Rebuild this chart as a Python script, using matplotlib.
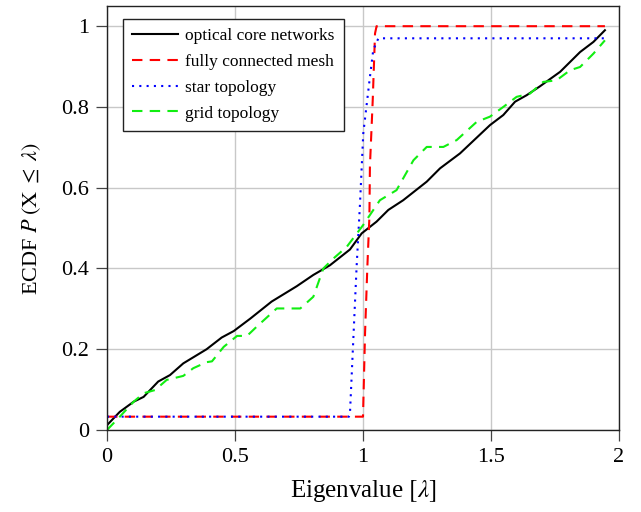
import matplotlib
matplotlib.use("Agg")
import matplotlib.pyplot as plt

plt.rcParams['font.family'] = ['Liberation Serif', 'DejaVu Serif']
plt.rcParams['mathtext.fontset'] = 'stix'

# optical core networks
core_x = [0.0, 0.05, 0.104, 0.143, 0.2, 0.246, 0.298, 0.389, 0.448, 0.495, 0.56, 0.643,
          0.741, 0.806, 0.871, 0.949, 0.995, 1.053, 1.099, 1.157, 1.249, 1.301, 1.379,
          1.496, 1.548, 1.594, 1.639, 1.691, 1.77, 1.848, 1.9, 1.945]
core_y = [0.012, 0.045, 0.07, 0.082, 0.12, 0.136, 0.165, 0.2, 0.229, 0.245, 0.276, 0.318,
          0.356, 0.384, 0.408, 0.447, 0.487, 0.516, 0.545, 0.569, 0.615, 0.648, 0.685,
          0.755, 0.78, 0.813, 0.829, 0.851, 0.887, 0.936, 0.961, 0.99]

# fully connected mesh
mesh_x = [0.0, 1.0, 1.008, 1.017, 1.025, 1.027, 1.038, 1.047, 1.053, 1.945]
mesh_y = [0.033, 0.033, 0.24, 0.404, 0.528, 0.652, 0.817, 0.982, 1.0, 1.0]

# star topology
star_x = [0.0, 0.945, 0.949, 0.975, 0.988, 1.001, 1.027, 1.04, 1.06, 1.945]
star_y = [0.033, 0.033, 0.04, 0.404, 0.557, 0.734, 0.874, 0.941, 0.97, 0.97]

# grid topology
grid_x = [0.0, 0.05, 0.104, 0.143, 0.188, 0.233, 0.298, 0.337, 0.389, 0.41, 0.456, 0.508,
          0.547, 0.585, 0.663, 0.755, 0.806, 0.845, 0.885, 0.937, 1.0, 1.066, 1.131,
          1.197, 1.249, 1.314, 1.366, 1.444, 1.496, 1.548, 1.6, 1.652, 1.704, 1.756,
          1.809, 1.848, 1.9, 1.945]
grid_y = [0.0, 0.033, 0.07, 0.091, 0.099, 0.124, 0.134, 0.153, 0.168, 0.17, 0.206, 0.233,
          0.233, 0.256, 0.301, 0.301, 0.33, 0.4, 0.425, 0.454, 0.507, 0.569, 0.594,
          0.668, 0.701, 0.701, 0.718, 0.763, 0.776, 0.8, 0.825, 0.833, 0.862, 0.866,
          0.891, 0.899, 0.932, 0.965]

xticks = [0, 0.5, 1, 1.5, 2]
xtick_labels = ['0', '0.5', '1', '1.5', '2']
yticks = [0, 0.2, 0.4, 0.6, 0.8, 1]
ytick_labels = ['0', '0.2', '0.4', '0.6', '0.8', '1']

fig = plt.figure(figsize=(6.41, 5.12), dpi=100)
ax = fig.add_axes([107/641, 1 - 430/512, (619-107)/641, (430-6)/512])

ax.plot(core_x, core_y, color='black', lw=1.5, label='optical core networks')
ax.plot(mesh_x, mesh_y, color='red', lw=1.5, ls=(0, (5, 3.5)), label='fully connected mesh')
ax.plot(star_x, star_y, color='blue', lw=1.5, ls=(0, (1, 2.5)), label='star topology')
ax.plot(grid_x, grid_y, color='#11ee11', lw=1.5, ls=(0, (5, 3.5)), label='grid topology')

ax.set_xlim(0, 2)
ax.set_ylim(0, 1.05)
ax.set_xticks(xticks)
ax.set_xticklabels(xtick_labels)
ax.set_yticks(yticks)
ax.set_yticklabels(ytick_labels)
ax.tick_params(labelsize=16, direction='out', length=8, width=0.9, color='#444444', pad=5)
ax.grid(True, color='#c8c8c8', lw=1)
ax.set_axisbelow(True)
for s in ax.spines.values():
    s.set_color('#222222')
    s.set_linewidth(1)

ax.set_xlabel(r'Eigenvalue $[\lambda]$', fontsize=18, labelpad=8)
ax.set_ylabel(r'ECDF $P\;(\mathrm{X}\;\leq\;\lambda)$', fontsize=16, labelpad=13)

leg = ax.legend(loc='upper left', bbox_to_anchor=(0.031, 0.97), fontsize=12.5,
                frameon=True, fancybox=False, edgecolor='#222222', framealpha=1,
                handlelength=2.6, handletextpad=0.45, borderpad=0.55,
                labelspacing=0.55, borderaxespad=0)
leg.get_frame().set_linewidth(1)

fig.savefig('out.png', dpi=100)
